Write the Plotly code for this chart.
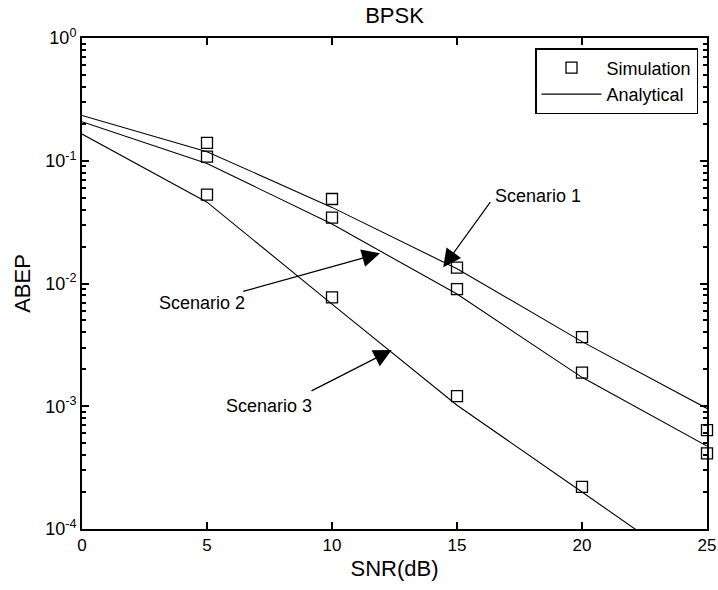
import plotly.graph_objects as go

# ---- data ----
snr_sim = [5, 10, 15, 20, 25]
sim_s1 = [0.140, 0.0488, 0.01345, 0.00366, 0.00064]
sim_s2 = [0.108, 0.0344, 0.0090, 0.00188, 0.000413]
snr_sim3 = [5, 10, 15, 20]
sim_s3 = [0.053, 0.0077, 0.00121, 0.00022]

snr_ana = [0, 5, 10, 15, 20, 25]
ana_s1 = [0.234, 0.1186, 0.0417, 0.0132, 0.00336, 0.00096]
ana_s2 = [0.208, 0.095, 0.0305, 0.0082, 0.00172, 0.000474]
ana_s3 = [0.165, 0.046, 0.0068, 0.00102, 0.00020, 0.000039]

x_ticks = [0, 5, 10, 15, 20, 25]
y_tickvals = [1e-4, 1e-3, 1e-2, 1e-1, 1e0]
y_ticktext = ["10<sup>-4</sup>", "10<sup>-3</sup>", "10<sup>-2</sup>", "10<sup>-1</sup>", "10<sup>0</sup>"]
y_minor = [m * 10.0 ** e for e in range(-4, 0) for m in range(2, 10)]

FONT = "Arial, Liberation Sans, sans-serif"

fig = go.Figure()

sim_x = snr_sim + [None] + snr_sim + [None] + snr_sim3
sim_y = sim_s1 + [None] + sim_s2 + [None] + sim_s3
fig.add_trace(go.Scatter(
    x=sim_x, y=sim_y, mode="markers", name="Simulation",
    marker=dict(symbol="square-open", size=11, color="black", line=dict(width=1.3, color="black")),
    cliponaxis=False,
))
for i, ys in enumerate([ana_s1, ana_s2, ana_s3]):
    fig.add_trace(go.Scatter(
        x=snr_ana, y=ys, mode="lines", name="Analytical",
        line=dict(color="black", width=1.1),
        showlegend=(i == 0), legendgroup="ana",
    ))
# invisible helper traces on the top / right frame axes so their inward ticks are drawn
fig.add_trace(go.Scatter(x=snr_ana, y=ana_s1, xaxis="x", yaxis="y2", mode="lines", opacity=0,
                         line=dict(width=0), showlegend=False, hoverinfo="skip"))
fig.add_trace(go.Scatter(x=snr_ana, y=ana_s1, xaxis="x2", yaxis="y", mode="lines", opacity=0,
                         line=dict(width=0), showlegend=False, hoverinfo="skip"))

# annotations: labels and arrows (data coordinates, log10 for y)
labels = [
    ("Scenario 1", 16.44, -1.287, "left"),
    ("Scenario 2", 4.78, -2.159, "center"),
    ("Scenario 3", 7.48, -2.998, "center"),
]
arrows = [
    # (tail_x, tail_logy, tip_x, tip_logy)
    (16.39, -1.320, 14.45, -1.868),
    (6.39, -2.067, 11.92, -1.754),
    (9.12, -2.881, 12.39, -2.542),
]
annotations = []
for text, x, ly, anchor in labels:
    annotations.append(dict(x=x, y=ly, xref="x", yref="y", text=text,
                            showarrow=False, xanchor=anchor, yanchor="middle",
                            font=dict(family=FONT, size=18, color="black")))
for tx, ty, hx, hy in arrows:
    annotations.append(dict(x=hx, y=hy, ax=tx, ay=ty, xref="x", yref="y", axref="x", ayref="y",
                            text=" ", showarrow=True, arrowhead=2, arrowsize=3, arrowwidth=1.2,
                            arrowcolor="black", standoff=0, startstandoff=0,
                            font=dict(size=1)))

TW = 2
fig.update_layout(
    width=718, height=590,
    margin=dict(l=82, r=11, t=38, b=61, autoexpand=False),
    paper_bgcolor="white", plot_bgcolor="white",
    font=dict(family=FONT, size=17, color="black"),
    title=dict(text="BPSK", x=(82 + 707) / 2 / 718, xanchor="center", y=1 - 15 / 590, yanchor="middle",
               yref="container", font=dict(family=FONT, size=22, color="black")),
    legend=dict(x=0.9856, y=0.9796, xanchor="right", yanchor="top", bgcolor="white",
                bordercolor="black", borderwidth=1.5, font=dict(family=FONT, size=18, color="black"),
                itemwidth=60, tracegroupgap=0),
    showlegend=True,
    annotations=annotations,
    xaxis=dict(
        range=[0, 25], tickvals=x_ticks, ticks="inside", ticklen=7, tickwidth=TW, tickcolor="black",
        showline=True, linecolor="black", linewidth=2, mirror=True, showgrid=False, zeroline=False,
        automargin=False, layer="above traces",
        title=dict(text="SNR(dB)", font=dict(family=FONT, size=22, color="black"), standoff=6),
        tickfont=dict(family=FONT, size=17, color="black"),
    ),
    xaxis2=dict(
        range=[0, 25], overlaying="x", side="top", anchor="y", showticklabels=False,
        tickvals=x_ticks, ticks="inside", ticklen=7, tickwidth=TW, tickcolor="black",
        showline=False, showgrid=False, zeroline=False, automargin=False, layer="above traces",
    ),
    yaxis=dict(
        type="log", range=[-4, 0], tickvals=y_tickvals, ticktext=y_ticktext,
        ticks="inside", ticklen=7, tickwidth=TW, tickcolor="black",
        minor=dict(tickvals=y_minor, ticks="inside", ticklen=4, tickwidth=1.5, tickcolor="black", showgrid=False),
        showline=True, linecolor="black", linewidth=2, mirror=True, showgrid=False, zeroline=False,
        automargin=False, layer="above traces",
        title=dict(text="ABEP", font=dict(family=FONT, size=22, color="black"), standoff=8),
        tickfont=dict(family=FONT, size=18, color="black"),
    ),
    yaxis2=dict(
        type="log", range=[-4, 0], overlaying="y", side="right", anchor="x", showticklabels=False,
        tickvals=y_tickvals, ticks="inside", ticklen=7, tickwidth=TW, tickcolor="black",
        minor=dict(tickvals=y_minor, ticks="inside", ticklen=4, tickwidth=1.5, tickcolor="black", showgrid=False),
        showline=False, showgrid=False, zeroline=False, automargin=False, layer="above traces",
    ),
)

fig.write_html("out.html")
